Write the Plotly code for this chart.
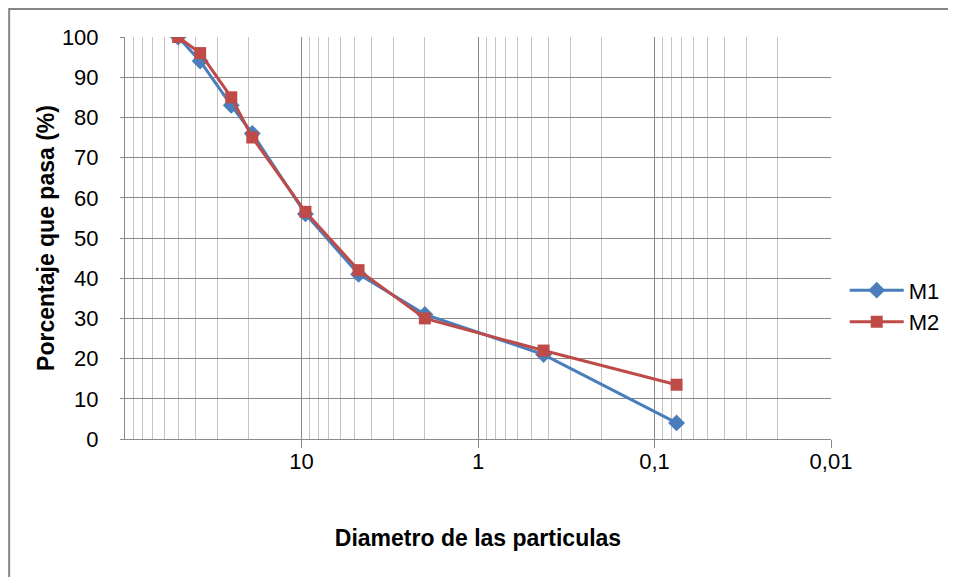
import plotly.graph_objects as go

diam = [50, 37.5, 25, 19, 9.5, 4.75, 2.0, 0.425, 0.075]
m1 = [100, 94, 83, 76, 56, 41, 31, 21, 4]
m2 = [100, 96, 85, 75, 56.5, 42, 30, 22, 13.5]
x_ticks = [10, 1, 0.1, 0.01]
x_tick_text = ["10", "1", "0,1", "0,01"]
minor_vals = [m * 10 ** e for e in (-2, -1, 0, 1) for m in range(2, 10)]

FONT = "Liberation Sans"
W, H = 948, 569
ML, MR, MT, MB = 117, 124, 29, 138
PW, PH = W - ML - MR, H - MT - MB

fig = go.Figure()
fig.add_trace(go.Scatter(x=diam, y=m1, name="M1", mode="lines+markers",
                         line=dict(color="#4A7EBB", width=3),
                         marker=dict(symbol="diamond", size=13, color="#4A7EBB")))
fig.add_trace(go.Scatter(x=diam, y=m2, name="M2", mode="lines+markers",
                         line=dict(color="#BE4B48", width=3),
                         marker=dict(symbol="square", size=12, color="#BE4B48")))

fig.update_layout(
    width=W, height=H,
    margin=dict(l=ML, r=MR, t=MT, b=MB),
    paper_bgcolor="white", plot_bgcolor="white",
    font=dict(family=FONT, size=22, color="black"),
    showlegend=True,
    legend=dict(x=1.018, y=0.33, xanchor="left", yanchor="middle",
                font=dict(size=22), tracegroupgap=0, itemwidth=54,
                bgcolor="rgba(0,0,0,0)"),
    xaxis=dict(type="log", range=[2, -2], tickvals=x_ticks, ticktext=x_tick_text,
               showgrid=True, gridcolor="#8a8a8a", gridwidth=1,
               showline=True, linecolor="#8a8a8a", linewidth=1, mirror=False,
               ticks="outside", ticklen=8, tickcolor="#8a8a8a",
               ticklabelstandoff=-5,
               zeroline=False,
               minor=dict(tickvals=minor_vals, showgrid=True, gridcolor="#c4c4c4",
                          gridwidth=1, ticks=""),
               title=dict(text="<b>Diametro de las particulas</b>", font=dict(size=23),
                          standoff=56)),
    yaxis=dict(range=[0, 100], dtick=10, showgrid=True, gridcolor="#8a8a8a",
               gridwidth=1, showline=True, linecolor="#8a8a8a", linewidth=1,
               ticks="outside", ticklen=4, tickcolor="#8a8a8a", zeroline=False,
               ticklabelstandoff=17,
               title=dict(text="<b>Porcentaje que pasa (%)</b>", font=dict(size=23),
                          standoff=0)),
)

# chart area border (Excel style)
fig.add_shape(type="rect", xref="paper", yref="paper",
              x0=(1 - ML) / PW, x1=2, y0=-2, y1=(PH + MT - 1) / PH,
              line=dict(color="#868686", width=2), layer="below")

fig.write_html("out.html")
